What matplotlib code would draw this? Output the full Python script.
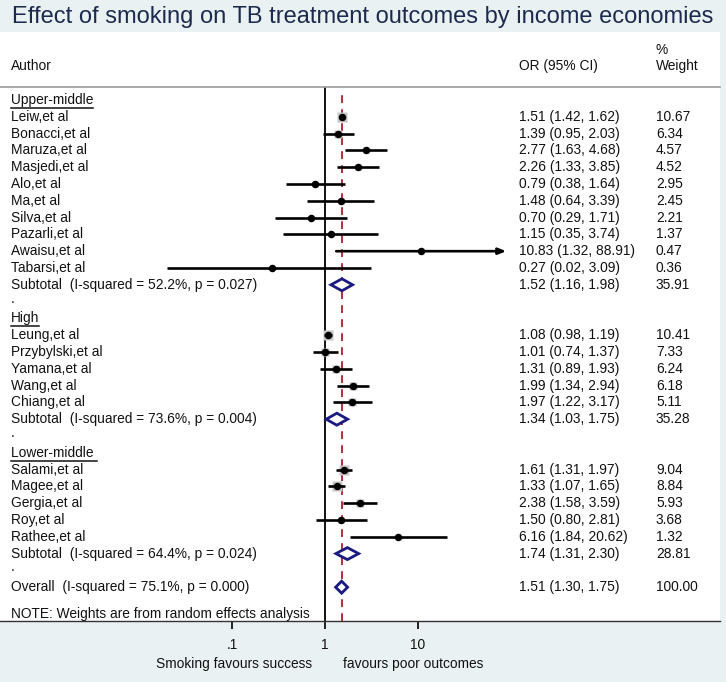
import matplotlib
matplotlib.use("Agg")
import matplotlib.pyplot as plt
import numpy as np
from matplotlib.lines import Line2D

# ---------------- data ----------------
groups = ["Upper-middle", "High", "Lower-middle"]

um_authors = ["Leiw,et al", "Bonacci,et al", "Maruza,et al", "Masjedi,et al", "Alo,et al",
              "Ma,et al", "Silva,et al", "Pazarli,et al", "Awaisu,et al", "Tabarsi,et al"]
um_or = [1.51, 1.39, 2.77, 2.26, 0.79, 1.48, 0.70, 1.15, 10.83, 0.27]
um_lo = [1.42, 0.95, 1.63, 1.33, 0.38, 0.64, 0.29, 0.35, 1.32, 0.02]
um_hi = [1.62, 2.03, 4.68, 3.85, 1.64, 3.39, 1.71, 3.74, 88.91, 3.09]
um_w = [10.67, 6.34, 4.57, 4.52, 2.95, 2.45, 2.21, 1.37, 0.47, 0.36]

hi_authors = ["Leung,et al", "Przybylski,et al", "Yamana,et al", "Wang,et al", "Chiang,et al"]
hi_or = [1.08, 1.01, 1.31, 1.99, 1.97]
hi_lo = [0.98, 0.74, 0.89, 1.34, 1.22]
hi_hi = [1.19, 1.37, 1.93, 2.94, 3.17]
hi_w = [10.41, 7.33, 6.24, 6.18, 5.11]

lm_authors = ["Salami,et al", "Magee,et al", "Gergia,et al", "Roy,et al", "Rathee,et al"]
lm_or = [1.61, 1.33, 2.38, 1.50, 6.16]
lm_lo = [1.31, 1.07, 1.58, 0.80, 1.84]
lm_hi = [1.97, 1.65, 3.59, 2.81, 20.62]
lm_w = [9.04, 8.84, 5.93, 3.68, 1.32]

sub_or = [1.52, 1.34, 1.74]
sub_lo = [1.16, 1.03, 1.31]
sub_hi = [1.98, 1.75, 2.30]
sub_w = [35.91, 35.28, 28.81]
sub_i2 = [52.2, 73.6, 64.4]
sub_p = [0.027, 0.004, 0.024]

overall_or, overall_lo, overall_hi, overall_w = 1.51, 1.30, 1.75, 100.00
overall_i2, overall_p = 75.1, 0.000

xticks = [0.1, 1, 10]
xtick_labels = [".1", "1", "10"]

# ---------------- layout ----------------
W, H = 726, 682
BG = "#eaf1f3"
TITLE_C = "#1c2b4d"
NAVY = "#1a1a80"
RED = "#b0303a"
FONT = "Liberation Sans"
FS = 9.9

plt.rcParams["font.family"] = [FONT, "DejaVu Sans"]

fig = plt.figure(figsize=(W / 100, H / 100), dpi=100, facecolor=BG)

top_px, bot_px, right_px = 32, 621, 720
ax = fig.add_axes([0, 1 - bot_px / H, right_px / W, (bot_px - top_px) / H])
ax.set_facecolor("white")
ax.set_xscale("log")
one_px, decade_px = 325, 93
ax.set_xlim(10 ** (-one_px / decade_px), 10 ** ((right_px - one_px) / decade_px))
ax.set_ylim(bot_px, top_px)
for s in ["top", "left", "right"]:
    ax.spines[s].set_visible(False)
ax.spines["bottom"].set_color("#333333")
ax.spines["bottom"].set_linewidth(1.0)
ax.set_yticks([])
ax.set_xticks(xticks)
ax.set_xticklabels(xtick_labels)
ax.xaxis.set_minor_locator(matplotlib.ticker.NullLocator())
ax.tick_params(axis="x", direction="out", length=6, width=1.3, pad=6,
               labelsize=FS, colors="#111111")


def ftext(xp, yp, s, **kw):
    kw.setdefault("fontsize", FS)
    kw.setdefault("va", "center")
    kw.setdefault("color", "#111111")
    return fig.text(xp / W, 1 - yp / H, s, **kw)


# title
ftext(W / 2, 17, "Effect of smoking on TB treatment outcomes by income economies",
      fontsize=17.0, ha="center", color=TITLE_C)

# headers
x_auth, x_or, x_w = 11, 519, 656
ftext(x_auth, 66, "Author")
ftext(x_or, 66, "OR (95% CI)")
ftext(x_w, 50, "%")
ftext(x_w, 66, "Weight")
fig.add_artist(Line2D([0, right_px / W], [1 - 87 / H] * 2, color="#9a9a9a", lw=1.2))

y0, dy = 100, 16.8
row_y = lambda r: y0 + dy * r

box_ref = 10.5 / np.sqrt(10.67)  # px per sqrt(weight)

underline_texts = []


def draw_study(r, name, o, lo, hi, w):
    y = row_y(r)
    ftext(x_auth, y, name)
    ftext(x_or, y, f"{o:.2f} ({lo:.2f}, {hi:.2f})")
    ftext(x_w, y, f"{w:.2f}")
    side = box_ref * np.sqrt(w) * 0.72
    ax.plot([o], [y], marker="s", ms=side, color="#c4c4c4", mec="none", zorder=2)
    if hi > 50:
        ax.annotate("", xy=(hi, y), xytext=(lo, y),
                    arrowprops=dict(arrowstyle="-|>,head_length=0.45,head_width=0.18",
                                    color="black", lw=1.9, shrinkA=0, shrinkB=0), zorder=3)
    else:
        ax.plot([lo, hi], [y, y], color="black", lw=1.9, solid_capstyle="butt", zorder=3)
    ax.plot([o], [y], marker="o", ms=5.4, color="black", mec="none", zorder=4)


def draw_diamond(r, o, lo, hi, w, label):
    y = row_y(r)
    ftext(x_auth, y, label)
    ftext(x_or, y, f"{o:.2f} ({lo:.2f}, {hi:.2f})")
    ftext(x_w, y, f"{w:.2f}")
    hh = 6
    ax.fill([lo, o, hi, o, lo], [y, y - hh, y, y + hh, y], facecolor="white",
            edgecolor=NAVY, lw=2.0, zorder=4, joinstyle="miter")


all_groups = [
    (um_authors, um_or, um_lo, um_hi, um_w),
    (hi_authors, hi_or, hi_lo, hi_hi, hi_w),
    (lm_authors, lm_or, lm_lo, lm_hi, lm_w),
]

r = 0
for gi, (names, ors, los, his, ws) in enumerate(all_groups):
    t = ftext(x_auth, row_y(r), groups[gi] + ("\u00a0" if gi == 2 else ""))
    underline_texts.append((t, row_y(r)))
    r += 1
    for k in range(len(names)):
        draw_study(r, names[k], ors[k], los[k], his[k], ws[k])
        r += 1
    draw_diamond(r, sub_or[gi], sub_lo[gi], sub_hi[gi], sub_w[gi],
                 f"Subtotal  (I-squared = {sub_i2[gi]:.1f}%, p = {sub_p[gi]:.3f})")
    r += 1
    ftext(x_auth, row_y(r) - 3, ".")
    r += 1

ftext_overall = f"Overall  (I-squared = {overall_i2:.1f}%, p = {overall_p:.3f})"
draw_diamond(r, overall_or, overall_lo, overall_hi, overall_w, ftext_overall)
r += 1.6
ftext(x_auth, row_y(r), "NOTE: Weights are from random effects analysis")

# reference lines
ax.plot([1, 1], [bot_px, 88], color="black", lw=1.3, zorder=1)
ax.plot([overall_or, overall_or], [bot_px, 90], color=RED, lw=1.4,
        dashes=(4, 3.2), zorder=1)

# axis caption
ftext(312, 664, "Smoking favours success", ha="right")
ftext(343, 664, "favours poor outcomes", ha="left")

# underlines for group headers
fig.canvas.draw()
rend = fig.canvas.get_renderer()
for t, y in underline_texts:
    bb = t.get_window_extent(rend)
    yy = 1 - (y + 8) / H
    fig.add_artist(Line2D([bb.x0 / W, bb.x1 / W], [yy, yy], color="#111111", lw=1.1))

fig.savefig("out.png", dpi=100, facecolor=BG)
